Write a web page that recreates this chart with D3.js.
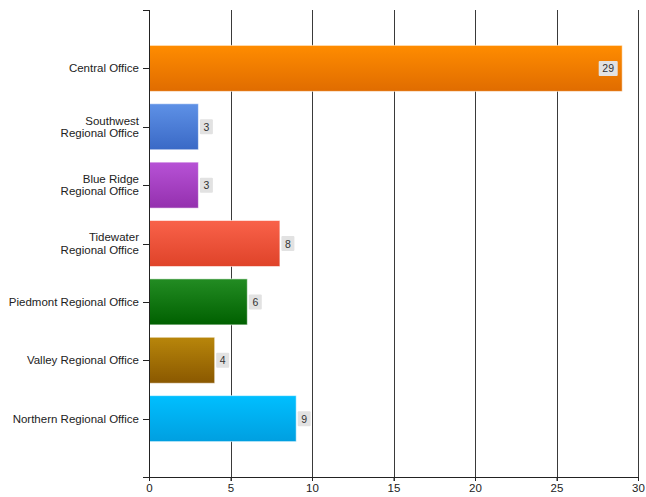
<!DOCTYPE html>
<html><head><meta charset="utf-8">
<script src="https://cdn.jsdelivr.net/npm/d3@7"></script>
<style>body{margin:0;background:#fff;} svg{display:block;font-family:"Liberation Sans",Arial,sans-serif;}</style>
</head><body>
<svg id="c" width="646" height="497"></svg>
<script>
const categories = [["Central Office"],["Southwest","Regional Office"],["Blue Ridge","Regional Office"],["Tidewater","Regional Office"],["Piedmont Regional Office"],["Valley Regional Office"],["Northern Regional Office"]];
const values = [29, 3, 3, 8, 6, 4, 9];
const xTicks = [0, 5, 10, 15, 20, 25, 30];
const colorsTop = ["#ff8c00","#5e91e6","#b752d6","#f9624a","#238c23","#b8860b","#00bfff"];
const colorsBottom = ["#e06c00","#3a69c6","#9430ae","#df4329","#006000","#8a5800","#009fe0"];

const svg = d3.select("#c");
const mLeft = 149, mRight = 638, mTop = 10, mBottom = 477;
const keys = categories.map(d => d.join(" "));
const x = d3.scaleLinear().domain([0, 30]).range([mLeft, mRight]);
const y = d3.scalePoint().domain(keys).range([mTop, mBottom]).padding(1);
const bh = 46;

const defs = svg.append("defs");
keys.forEach((k, i) => {
  const g = defs.append("linearGradient").attr("id", "g" + i).attr("x1", 0).attr("y1", 0).attr("x2", 0).attr("y2", 1);
  g.append("stop").attr("offset", "0%").attr("stop-color", colorsTop[i]);
  g.append("stop").attr("offset", "100%").attr("stop-color", colorsBottom[i]);
});

// grid lines
svg.append("g").selectAll("line").data(xTicks.slice(1)).join("line")
  .attr("x1", d => Math.round(x(d)) + 0.5).attr("x2", d => Math.round(x(d)) + 0.5)
  .attr("y1", mTop).attr("y2", mBottom + 4)
  .attr("stroke", "#3a3a3a").attr("stroke-width", 1);

// bars
svg.append("g").selectAll("rect").data(values).join("rect")
  .attr("x", x(0) + 0.5)
  .attr("y", (d, i) => y(keys[i]) - bh / 2)
  .attr("width", d => x(d) - x(0))
  .attr("height", bh)
  .attr("fill", (d, i) => "url(#g" + i + ")")
  .attr("stroke", "rgba(255,255,255,0.55)").attr("stroke-width", 1);

// value labels
const lab = svg.append("g").selectAll("g").data(values).join("g");
lab.each(function(d, i) {
  const g = d3.select(this);
  const txt = String(d);
  const w = txt.length * 6 + 7;
  const h = 15;
  let bx = x(d) + 2;
  if (bx + w > mRight) bx = x(d) - w - 4;
  const cy = y(keys[i]);
  g.append("rect").attr("x", bx).attr("y", cy - h / 2).attr("width", w).attr("height", h)
    .attr("fill", "#e2e2e2").attr("rx", 1);
  g.append("text").attr("x", bx + w / 2).attr("y", cy + 4).attr("text-anchor", "middle")
    .attr("font-size", 10.5).attr("fill", "#333").text(txt);
});

// y axis
const ya = svg.append("g");
ya.append("line").attr("x1", mLeft + 0.5).attr("x2", mLeft + 0.5).attr("y1", mTop).attr("y2", mBottom).attr("stroke", "#222");
ya.append("line").attr("x1", mLeft - 6).attr("x2", mLeft).attr("y1", mTop + 0.5).attr("y2", mTop + 0.5).attr("stroke", "#222");
ya.selectAll("line.t").data(keys).join("line").attr("class", "t")
  .attr("x1", mLeft - 6).attr("x2", mLeft).attr("y1", d => Math.round(y(d)) + 0.5).attr("y2", d => Math.round(y(d)) + 0.5).attr("stroke", "#222");
categories.forEach((lines, i) => {
  const cy = y(keys[i]);
  const t = ya.append("text").attr("text-anchor", "end").attr("font-size", 11.5).attr("fill", "#222");
  const n = lines.length;
  lines.forEach((s, j) => {
    t.append("tspan").attr("x", mLeft - 10).attr("y", cy + 4 + (j - (n - 1) / 2) * 12.5).text(s);
  });
});

// x axis
const xa = svg.append("g").attr("transform", `translate(0,${mBottom})`)
  .call(d3.axisBottom(x).tickValues(xTicks).tickSize(4).tickSizeOuter(0).tickFormat(d3.format("d")));
xa.select(".domain").attr("d", `M${mLeft - 6},0.5H${mRight + 1}`).attr("stroke", "#222");
xa.selectAll(".tick line").attr("stroke", "#222");
xa.selectAll(".tick text").attr("font-size", 11.5).attr("fill", "#222").attr("y", 7).attr("font-family", "Liberation Sans, Arial, sans-serif");
</script>
</body></html>
